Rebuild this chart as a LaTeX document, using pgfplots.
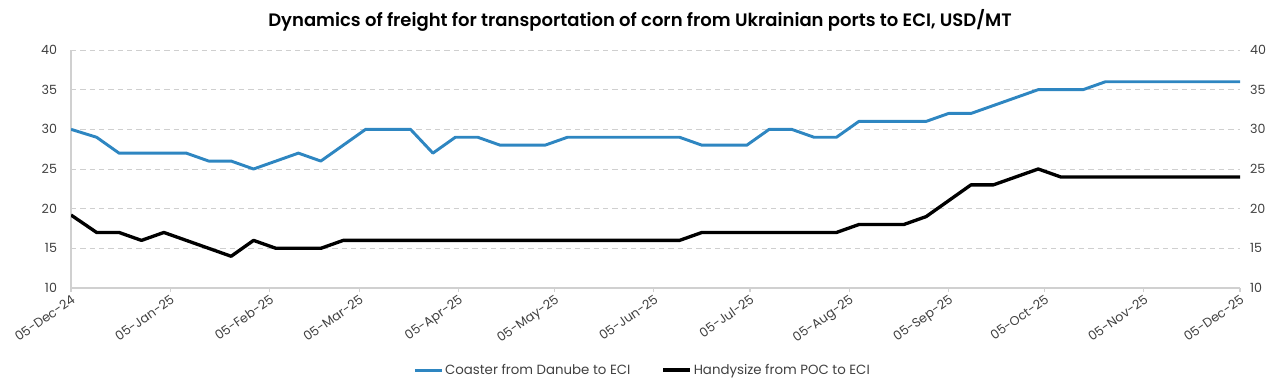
\documentclass[border=0pt]{standalone}
\usepackage{fontspec}
\setmainfont{Poppins}
\newfontfamily\titlefont{Poppins SemiBold}
\usepackage{pgfplots}
\pgfplotsset{compat=1.18}
\usepackage{pgfplotstable}
\definecolor{cblue}{HTML}{2E86C1}
\definecolor{txt}{HTML}{404040}
\definecolor{axgray}{HTML}{D0D0D0}
\definecolor{gridgray}{HTML}{CFCFCF}

% day number counted from 05-Dec-24
\pgfplotstableread{
day coaster handy
0   30 19.2
8   29 17
15  27 17
22  27 16
29  27 17
36  27 16
43  26 15
50  26 14
57  25 16
64  26 15
71  27 15
78  26 15
85  28 16
92  30 16
99  30 16
106 30 16
113 27 16
120 29 16
127 29 16
134 28 16
141 28 16
148 28 16
155 29 16
162 29 16
169 29 16
176 29 16
183 29 16
190 29 16
197 28 17
204 28 17
211 28 17
218 30 17
225 30 17
232 29 17
239 29 17
246 31 18
253 31 18
260 31 18
267 31 19
274 32 21
281 32 23
288 33 23
295 34 24
302 35 25
309 35 24
316 35 24
323 36 24
330 36 24
337 36 24
344 36 24
351 36 24
358 36 24
365 36 24
}\freight

\begin{document}
\begin{tikzpicture}
\useasboundingbox (0,0) rectangle (960pt,294pt);
\node[font=\fontsize{13.5}{15}\selectfont\titlefont, text=black] at (480pt,279pt)
  {Dynamics of freight for transportation of corn from Ukrainian ports to ECI, USD/MT};
\begin{axis}[
  at={(53.25pt,78pt)}, anchor=south west,
  scale only axis, width=876.75pt, height=178.5pt,
  xmin=0, xmax=365, ymin=10, ymax=40,
  ytick={10,15,...,40},
  xtick={0,31,62,90,121,151,182,212,243,274,304,335,365},
  xticklabels={05-Dec-24,05-Jan-25,05-Feb-25,05-Mar-25,05-Apr-25,05-May-25,05-Jun-25,05-Jul-25,05-Aug-25,05-Sep-25,05-Oct-25,05-Nov-25,05-Dec-25},
  axis x line*=bottom, axis y line*=left,
  axis line style={axgray, line width=0.8pt, -},
  xtick pos=bottom, tick align=outside,
  xtick style={axgray, line width=0.8pt},
  major tick length=3pt,
  ytick style={draw=none},
  ymajorgrids, grid style={gridgray, line width=0.6pt, dash pattern=on 4pt off 3pt},
  /pgf/number format/assume math mode=true,
  tick label style={font=\fontsize{9.5}{11}\selectfont, text=txt},
  x tick label style={rotate=35, anchor=north east, inner sep=1pt},
  yticklabel style={xshift=-4pt},
  legend columns=2,
  legend style={at={(0.489,-0.345)}, anchor=center, draw=none, fill=none,
    font=\fontsize{10}{12}\selectfont, text=txt,
    nodes={inner xsep=1.5pt},
    /tikz/every even column/.append style={column sep=22pt}},
  legend image code/.code={\draw[#1] (0pt,0pt) -- (20pt,0pt);},
]
\addplot[cblue, line width=2.2pt, line join=round] table[x=day, y=coaster] {\freight};
\addlegendentry{Coaster from Danube to ECI}
\addplot[black, line width=2.5pt, line join=round] table[x=day, y=handy] {\freight};
\addlegendentry{Handysize from POC to ECI}
\end{axis}
\begin{axis}[
  at={(53.25pt,78pt)}, anchor=south west,
  scale only axis, width=876.75pt, height=178.5pt,
  xmin=0, xmax=365, ymin=10, ymax=40,
  ytick={10,15,...,40},
  axis x line=none, axis y line*=right,
  axis line style={draw=none},
  ytick style={draw=none},
  /pgf/number format/assume math mode=true,
  tick label style={font=\fontsize{9.5}{11}\selectfont, text=txt},
  yticklabel style={xshift=4pt},
]
\end{axis}
\end{tikzpicture}
\end{document}
